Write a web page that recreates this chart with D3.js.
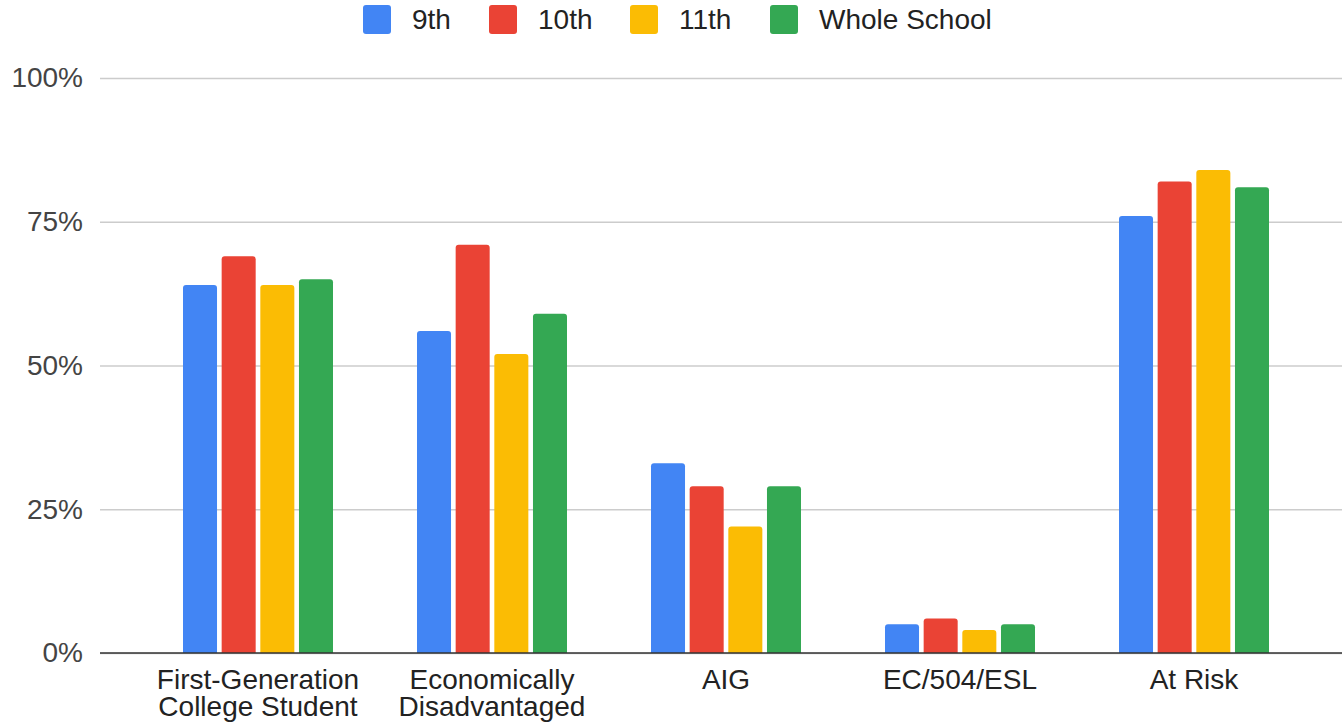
<!DOCTYPE html>
<html>
<head>
<meta charset="utf-8">
<script src="https://cdn.jsdelivr.net/npm/d3@7"></script>
<style>
  html, body { margin: 0; padding: 0; background: #fff; }
  svg { display: block; font-family: "Liberation Sans", Arial, sans-serif; }
</style>
</head>
<body>
<svg id="chart" width="1342" height="725"></svg>
<script>
// Student group shares by grade level
const categories = [
  ["First-Generation", "College Student"],
  ["Economically", "Disadvantaged"],
  ["AIG"],
  ["EC/504/ESL"],
  ["At Risk"]
];
const seriesNames = ["9th", "10th", "11th", "Whole School"];
const seriesColors = ["#4285f4", "#ea4335", "#fbbc04", "#34a853"];
const grade9 = [0.64, 0.56, 0.33, 0.05, 0.76];
const grade10 = [0.69, 0.71, 0.29, 0.06, 0.82];
const grade11 = [0.64, 0.52, 0.22, 0.04, 0.84];
const wholeSchool = [0.65, 0.59, 0.29, 0.05, 0.81];
const yTicks = [0, 0.25, 0.5, 0.75, 1];

const seriesValues = [grade9, grade10, grade11, wholeSchool];
const svg = d3.select("#chart");

const plotLeft = 100, plotRight = 1342, plotTop = 78, plotBottom = 653;
const x0 = d3.scaleBand().domain(d3.range(categories.length)).range([141, 1311]).paddingInner(0).paddingOuter(0);
const groupWidth = 150;
const x1 = d3.scaleBand().domain(d3.range(seriesNames.length)).range([0, groupWidth]).paddingInner(0.12);
const y = d3.scaleLinear().domain([0, 1]).range([plotBottom, plotTop]);

// gridlines and y labels
const yAxis = d3.axisLeft(y).tickValues(yTicks).tickFormat(d3.format(".0%")).tickSize(-(plotRight - plotLeft)).tickPadding(17);
const yg = svg.append("g").attr("transform", `translate(${plotLeft},0)`).call(yAxis);
yg.select(".domain").remove();
yg.selectAll(".tick line").attr("stroke", "#cccccc").attr("stroke-width", 1.5);
yg.selectAll(".tick text").attr("fill", "#444").style("font-size", "28px").attr("font-family", "Liberation Sans, Arial, sans-serif");

// bars with slightly rounded tops
function barPath(x, yTop, w, yBase, r) {
  r = Math.min(r, (yBase - yTop) / 2);
  return `M${x},${yBase}V${yTop + r}Q${x},${yTop} ${x + r},${yTop}H${x + w - r}Q${x + w},${yTop} ${x + w},${yTop + r}V${yBase}Z`;
}
const groups = svg.append("g").selectAll("g").data(categories).join("g")
  .attr("transform", (d, i) => `translate(${x0(i) + (x0.bandwidth() - groupWidth) / 2},0)`);
groups.selectAll("path").data((d, i) => seriesValues.map((s, k) => ({ k, v: s[i] }))).join("path")
  .attr("d", d => barPath(x1(d.k), y(d.v), x1.bandwidth(), y(0), 3))
  .attr("fill", d => seriesColors[d.k]);

// baseline
svg.append("line").attr("x1", plotLeft).attr("x2", plotRight).attr("y1", y(0)).attr("y2", y(0))
  .attr("stroke", "#333").attr("stroke-width", 1.5);

// category labels
const xLabels = svg.append("g").selectAll("text").data(categories).join("text")
  .attr("x", (d, i) => x0(i) + x0.bandwidth() / 2)
  .attr("y", 689)
  .attr("text-anchor", "middle")
  .attr("fill", "#222")
  .style("font-size", "28px");
xLabels.selectAll("tspan").data(d => d).join("tspan")
  .attr("x", function () { return this.parentNode.getAttribute("x"); })
  .attr("dy", (d, i) => i === 0 ? 0 : 27)
  .text(d => d);

// legend
const legendX = [363, 489, 630, 770];
const legend = svg.append("g").selectAll("g").data(seriesNames).join("g")
  .attr("transform", (d, i) => `translate(${legendX[i]},5)`);
legend.append("rect").attr("width", 28).attr("height", 29).attr("rx", 3)
  .attr("fill", (d, i) => seriesColors[i]);
legend.append("text").attr("x", 49).attr("y", 24).attr("fill", "#222")
  .style("font-size", "28px").text(d => d);
</script>
</body>
</html>
